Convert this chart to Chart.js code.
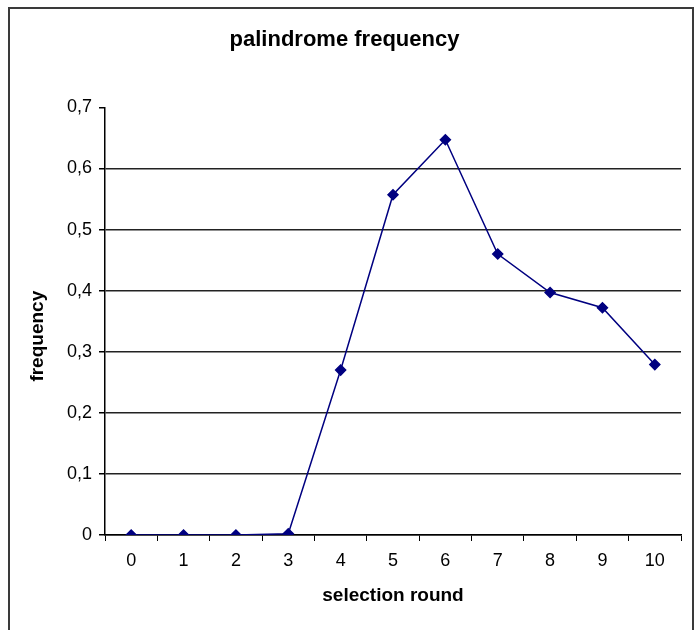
<!DOCTYPE html>
<html lang="en">
<head>
    <meta charset="UTF-8">
    <title>palindrome frequency</title>
    <script src="https://cdn.jsdelivr.net/npm/chart.js"></script>
    <style>
        body { margin: 0; background: #fff; }
        #graph { display: block; }
    </style>
</head>
<body>
    <canvas id="graph" width="695" height="630"></canvas>

    <script>
        // data
        const rounds = ['0', '1', '2', '3', '4', '5', '6', '7', '8', '9', '10'];
        const frequency = [0, 0, 0, 0.002, 0.27, 0.557, 0.647, 0.46, 0.397, 0.372, 0.279];
        const yTicks = [0, 0.1, 0.2, 0.3, 0.4, 0.5, 0.6, 0.7];

        const FONT = "'Liberation Sans', Arial, sans-serif";

        // grey frame round the whole chart + the y title (sits a bit below the axis middle)
        const frame = {
            id: 'frame',
            beforeDraw(chart) {
                const c = chart.ctx;
                c.save();
                c.fillStyle = '#fff';
                c.fillRect(0, 0, chart.width, chart.height);
                c.strokeStyle = '#3a3a3a';
                c.lineWidth = 2;
                c.strokeRect(9, 8, 684, 630);
                c.restore();
            },
            afterDraw(chart) {
                const c = chart.ctx;
                const area = chart.chartArea;
                c.save();
                c.translate(38, (area.top + area.bottom) / 2 + 15);
                c.rotate(-Math.PI / 2);
                c.fillStyle = '#000';
                c.font = 'bold 19px ' + FONT;
                c.textAlign = 'center';
                c.textBaseline = 'middle';
                c.fillText('frequency', 0, 0);
                c.restore();
            }
        };

        const ctx = document.getElementById('graph').getContext('2d');
        new Chart(ctx, {
            type: 'line',
            data: {
                labels: rounds,
                datasets: [{
                    label: 'palindrome frequency',
                    data: frequency,
                    borderColor: '#000080',
                    backgroundColor: '#000080',
                    borderWidth: 1.5,
                    pointStyle: 'rectRot',
                    pointRadius: 5,
                    pointBackgroundColor: '#000080',
                    pointBorderColor: '#000080',
                    tension: 0,
                    fill: false
                }]
            },
            options: {
                responsive: false,
                animation: false,
                layout: { padding: { left: 8, right: 14, top: 0, bottom: 0 } },
                plugins: {
                    legend: { display: false },
                    tooltip: { enabled: false },
                    title: {
                        display: true,
                        text: 'palindrome frequency',
                        color: '#000',
                        font: { family: FONT, size: 22, weight: 'bold' },
                        padding: { top: 27, bottom: 54 }
                    }
                },
                scales: {
                    x: {
                        offset: true,
                        afterFit: s => { s.height = 95; },
                        grid: {
                            offset: true,
                            drawOnChartArea: false,
                            tickLength: 6,
                            color: '#000'
                        },
                        border: { color: '#000', width: 1.5 },
                        ticks: {
                            color: '#000',
                            padding: 9,
                            maxRotation: 0,
                            font: { family: FONT, size: 18 }
                        },
                        title: {
                            display: true,
                            text: 'selection round',
                            color: '#000',
                            font: { family: FONT, size: 19, weight: 'bold' },
                            padding: { top: 0, bottom: 23 }
                        }
                    },
                    y: {
                        min: 0,
                        max: 0.7,
                        afterFit: s => { s.width = 97; },
                        afterBuildTicks: s => { s.ticks = yTicks.map(v => ({ value: v })); },
                        grid: {
                            color: c => (c.tick && c.tick.value >= 0.7 ? 'rgba(0,0,0,0)' : '#222'),
                            tickColor: '#000',
                            tickLength: 6,
                            lineWidth: 1.5
                        },
                        border: { color: '#000', width: 1.5 },
                        ticks: {
                            color: '#000',
                            padding: 7,
                            font: { family: FONT, size: 18 },
                            callback: v => String(Number(v.toFixed(1))).replace('.', ',')
                        }
                    }
                }
            },
            plugins: [frame]
        });
    </script>
</body>
</html>
